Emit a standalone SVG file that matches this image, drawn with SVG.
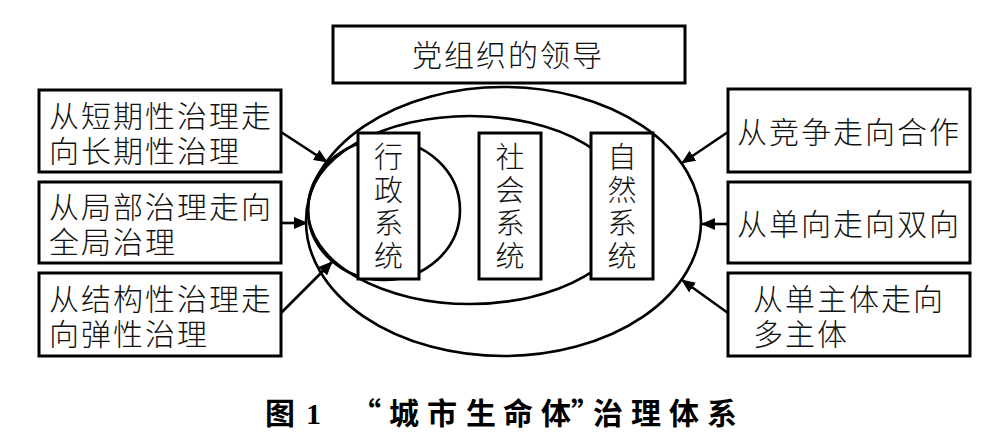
<svg xmlns="http://www.w3.org/2000/svg" width="985" height="444" viewBox="0 0 985 444">
<style>
.box{fill:#fff;stroke:#000;stroke-width:3}
.ell{fill:none;stroke:#000;stroke-width:2.6}
.t{font-family:"Liberation Sans","Noto Sans CJK SC",sans-serif;font-size:30px;letter-spacing:2px;fill:#111;font-weight:300}
.v{font-family:"Liberation Sans","Noto Sans CJK SC",sans-serif;font-size:29px;fill:#111;font-weight:300;text-anchor:middle}
.arr{stroke:#000;stroke-width:2.6;fill:none;marker-end:url(#ah)}
.cap{font-family:"Noto Sans CJK SC",sans-serif;font-size:30px;font-weight:700;fill:#000}
</style>
<defs>
<marker id="ah" markerUnits="userSpaceOnUse" markerWidth="14" markerHeight="12" refX="13" refY="6" orient="auto">
<path d="M0,0 L14,6 L0,12 z" fill="#000"/>
</marker>
</defs>
<rect width="985" height="444" fill="#fff"/>

<g id="ellipses">
<ellipse class="ell" cx="503.5" cy="221.5" rx="197.5" ry="134.5"/>
<ellipse class="ell" cx="470" cy="210" rx="162" ry="94"/>
<ellipse class="ell" cx="384" cy="210" rx="76" ry="70"/>
</g>

<g id="connectors">
<line class="arr" x1="281" y1="132" x2="327" y2="162"/>
<line class="arr" x1="281" y1="223" x2="307" y2="223"/>
<line class="arr" x1="281" y1="313" x2="332" y2="262"/>
<line class="arr" x1="728" y1="132" x2="682" y2="163"/>
<line class="arr" x1="728" y1="224" x2="702" y2="224"/>
<line class="arr" x1="728" y1="313" x2="682" y2="280"/>
</g>

<g id="top">
<rect class="box" x="333" y="26" width="352" height="57"/>
<text class="t" x="412" y="66">党组织的领导</text>
</g>

<g id="admin">
<rect class="box" x="358" y="133" width="61" height="146"/>
<text class="v"><tspan x="388.5" y="168">行</tspan><tspan x="388.5" y="201">政</tspan><tspan x="388.5" y="234">系</tspan><tspan x="388.5" y="267">统</tspan></text>
</g>
<g id="social">
<rect class="box" x="479" y="133" width="62" height="146"/>
<text class="v"><tspan x="510" y="168">社</tspan><tspan x="510" y="201">会</tspan><tspan x="510" y="234">系</tspan><tspan x="510" y="267">统</tspan></text>
</g>
<g id="nature">
<rect class="box" x="591" y="133" width="62" height="146"/>
<text class="v"><tspan x="622" y="168">自</tspan><tspan x="622" y="201">然</tspan><tspan x="622" y="234">系</tspan><tspan x="622" y="267">统</tspan></text>
</g>

<g id="l1">
<rect class="box" x="39" y="90" width="242" height="82"/>
<text class="t"><tspan x="49" y="127">从短期性治理走</tspan><tspan x="49" y="162">向长期性治理</tspan></text>
</g>
<g id="l2">
<rect class="box" x="39" y="182" width="242" height="81"/>
<text class="t"><tspan x="49" y="218">从局部治理走向</tspan><tspan x="49" y="253">全局治理</tspan></text>
</g>
<g id="l3">
<rect class="box" x="39" y="273" width="242" height="83"/>
<text class="t"><tspan x="49" y="310">从结构性治理走</tspan><tspan x="49" y="345">向弹性治理</tspan></text>
</g>

<g id="r1">
<rect class="box" x="728" y="89" width="242" height="83"/>
<text class="t" x="737" y="143">从竞争走向合作</text>
</g>
<g id="r2">
<rect class="box" x="728" y="182" width="242" height="81"/>
<text class="t" x="737" y="235">从单向走向双向</text>
</g>
<g id="r3">
<rect class="box" x="728" y="273" width="242" height="83"/>
<text class="t"><tspan x="753" y="310">从单主体走向</tspan><tspan x="753" y="345">多主体</tspan></text>
</g>

<g id="caption">
<text class="cap" x="265" y="424">图</text>
<text x="306" y="424" font-family="Liberation Serif,serif" font-weight="700" font-size="30">1</text>
<text class="cap" x="351 389 427 466 503 541 571 593 631 669 707" y="424">“城市生命体”治理体系</text>
</g>
</svg>
